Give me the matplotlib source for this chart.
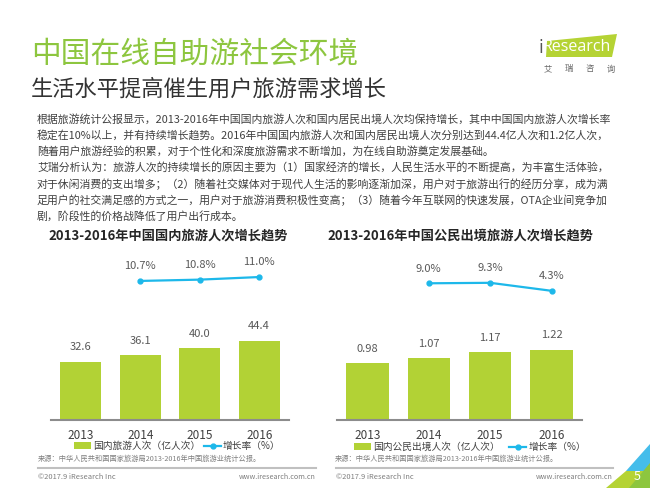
import matplotlib
matplotlib.use("Agg")
import matplotlib.pyplot as plt
from matplotlib.lines import Line2D
from matplotlib.patches import Polygon

plt.rcParams['font.family'] = ['Noto Sans CJK SC', 'DejaVu Sans']

# ---- data ----
years = ['2013', '2014', '2015', '2016']
domestic_trips = [32.6, 36.1, 40.0, 44.4]          # 亿人次
domestic_growth = [None, 10.7, 10.8, 11.0]          # %
outbound_trips = [0.98, 1.07, 1.17, 1.22]           # 亿人次
outbound_growth = [None, 9.0, 9.3, 4.3]             # %

title = '中国在线自助游社会环境'
subtitle = '生活水平提高催生用户旅游需求增长'
paragraph = [
    '根据旅游统计公报显示，2013-2016年中国国内旅游人次和国内居民出境人次均保持增长，其中中国国内旅游人次增长率',
    '稳定在10%以上，并有持续增长趋势。2016年中国国内旅游人次和国内居民出境人次分别达到44.4亿人次和1.2亿人次，',
    '随着用户旅游经验的积累，对于个性化和深度旅游需求不断增加，为在线自助游奠定发展基础。',
    '艾瑞分析认为：旅游人次的持续增长的原因主要为（1）国家经济的增长，人民生活水平的不断提高，为丰富生活体验，',
    '对于休闲消费的支出增多；（2）随着社交媒体对于现代人生活的影响逐渐加深，用户对于旅游出行的经历分享，成为满',
    '足用户的社交满足感的方式之一，用户对于旅游消费积极性变高；（3）随着今年互联网的快速发展，OTA企业间竞争加',
    '剧，阶段性的价格战降低了用户出行成本。',
]
left_title = '2013-2016年中国国内旅游人次增长趋势'
right_title = '2013-2016年中国公民出境旅游人次增长趋势'
left_bar_label = '国内旅游人次（亿人次）'
right_bar_label = '国内公民出境人次（亿人次）'
growth_label = '增长率（%）'
source = '来源：中华人民共和国国家旅游局2013-2016年中国旅游业统计公报。'
copyright_txt = '©2017.9 iResearch Inc'
website = 'www.iresearch.com.cn'

BAR = '#B2D235'
LINE = '#1DB8EA'
GREEN = '#8DC63F'

W, H = 650, 488
fig = plt.figure(figsize=(6.5, 4.88), dpi=100)
fig.patch.set_facecolor('white')

def fx(x):
    return x / W

def fy(y):
    return 1 - y / H

# ---- header ----
fig.text(fx(31), fy(54), title, fontsize=21.4, color=GREEN, va='center', ha='left')
fig.text(fx(31), fy(89), subtitle, fontsize=16, color='#333333', va='center', ha='left')

# logo
fig.add_artist(Polygon([[fx(547), fy(41)], [fx(617), fy(34)], [fx(612), fy(57)], [fx(546), fy(57)]],
                       closed=True, transform=fig.transFigure, facecolor='#B5D334', edgecolor='none'))
fig.text(fx(538), fy(48), 'i', fontsize=12, color='#555555', va='center', ha='left',
         family=['DejaVu Sans'])
fig.text(fx(543), fy(47), 'Research', fontsize=11.5, color='white', va='center', ha='left',
         family=['Open Sans', 'DejaVu Sans'])
for i, ch in enumerate('艾瑞咨询'):
    fig.text(fx(548 + i * 21), fy(69), ch, fontsize=6, color='#666666', va='center', ha='center')

# ---- paragraph ----
for i, line in enumerate(paragraph):
    fig.text(fx(37), fy(119 + 16.2 * i), line, fontsize=7.85, color='#404040', va='center', ha='left')

# ---- chart helper ----
def draw_chart(left_px, width_px, values, growth, gmin, gmax, vmax, ttl, ttl_x, bar_label,
               fmt, leg_x, leg_y, spacing):
    ax = fig.add_axes([fx(left_px), (H - 420) / H, width_px / W, 170 / H])
    xs = list(range(len(years)))
    bars = ax.bar(xs, values, width=0.69, color=BAR, label=bar_label, zorder=2)
    for x, v in zip(xs, values):
        ax.annotate(fmt.format(v), (x, v), xytext=(0, 7), textcoords='offset points',
                    ha='center', va='bottom', fontsize=8, color='#595959')
    ax.set_xlim(-0.5, 3.5)
    ax.set_ylim(0, vmax)
    ax.set_xticks(xs)
    ax.set_xticklabels(years, fontsize=8.5, color='#404040')
    ax.tick_params(axis='x', length=0, pad=6.5)
    ax.set_yticks([])
    for s in ['top', 'right', 'left']:
        ax.spines[s].set_visible(False)
    ax.spines['bottom'].set_color('#8c8c8c')
    ax.spines['bottom'].set_linewidth(1.5)
    ax.patch.set_alpha(0)

    ax2 = ax.twinx()
    gx = [x for x, g in zip(xs, growth) if g is not None]
    gy = [g for g in growth if g is not None]
    ln, = ax2.plot(gx, gy, color=LINE, lw=1.6, marker='o', markersize=3.5, label=growth_label)
    for x, g in zip(gx, gy):
        ax2.annotate('{:.1f}%'.format(g), (x, g), xytext=(0, 7), textcoords='offset points',
                     ha='center', va='bottom', fontsize=8, color='#595959')
    ax2.set_ylim(gmin, gmax)
    ax2.set_xlim(-0.5, 3.5)
    ax2.set_yticks([])
    for s in ['top', 'right', 'left', 'bottom']:
        ax2.spines[s].set_visible(False)

    fig.text(fx(ttl_x), fy(236), ttl, fontsize=9.5, fontweight='bold', color='#262626',
             va='center', ha='center')

    fig.legend(handles=[bars, ln], labels=[bar_label, growth_label], ncol=2, frameon=False,
               loc='center left', bbox_to_anchor=(fx(leg_x), fy(leg_y)),
               bbox_transform=fig.transFigure, fontsize=7, labelcolor='#404040',
               handlelength=1.75, handleheight=0.7, handletextpad=0.2,
               columnspacing=spacing, borderpad=0, borderaxespad=0, numpoints=1)
    return ax

draw_chart(51, 238, domestic_trips, domestic_growth, 0, 13.08, 95, left_title, 168,
           left_bar_label, '{:.1f}', 74, 446, 0.4)
draw_chart(336.7, 245.6, outbound_trips, outbound_growth, -76.4, 29.8, 2.946, right_title, 460,
           right_bar_label, '{:.2f}', 354, 447, 1.0)

# ---- source & footer ----
fig.text(fx(38), fy(459), source, fontsize=5.2, color='#7f7f7f', va='center', ha='left')
fig.text(fx(335), fy(459), source, fontsize=5.2, color='#7f7f7f', va='center', ha='left')
for x0, x1 in [(38, 316), (336, 613)]:
    fig.add_artist(Line2D([fx(x0), fx(x1)], [fy(468), fy(468)], transform=fig.transFigure,
                          color='#c0c0c0', lw=1.5))
    fig.text(fx(x0), fy(477), copyright_txt, fontsize=5.4, color='#7f7f7f', va='center', ha='left')
    fig.text(fx(x1), fy(477), website, fontsize=5.2, color='#7f7f7f', va='center', ha='right')

# ---- corner decoration ----
fig.add_artist(Polygon([[fx(606), fy(488)], [fx(626), fy(471)], [fx(650), fy(471)], [fx(650), fy(488)]],
                       closed=True, transform=fig.transFigure, facecolor='#B5D334', edgecolor='none'))
fig.add_artist(Polygon([[fx(626), fy(471)], [fx(650), fy(444)], [fx(650), fy(471)]],
                       closed=True, transform=fig.transFigure, facecolor='#45BDEB', edgecolor='none'))
fig.add_artist(Polygon([[fx(629), fy(488)], [fx(650), fy(463)], [fx(650), fy(488)]],
                       closed=True, transform=fig.transFigure, facecolor='#8DC63F', edgecolor='none'))
fig.text(fx(637), fy(477), '5', fontsize=9, color='white', va='center', ha='center')

fig.savefig('out.png', dpi=100)
